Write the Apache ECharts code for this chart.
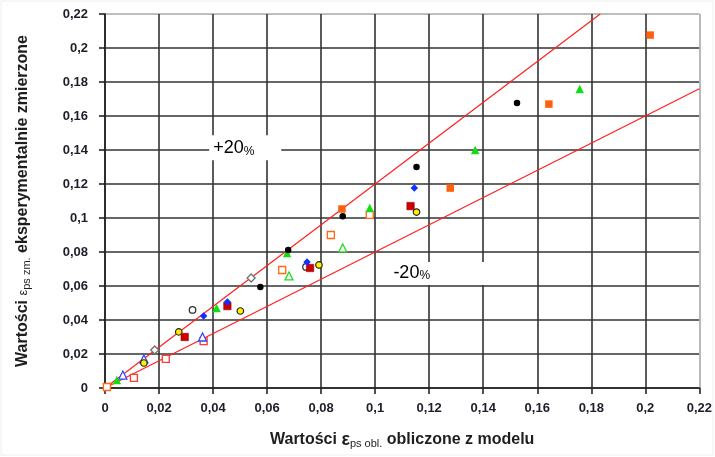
<!DOCTYPE html>
<html>
<head>
<meta charset="utf-8">
<script src="https://cdn.jsdelivr.net/npm/echarts@6/dist/echarts.min.js"></script>
<style>
html,body{margin:0;padding:0;background:#fff;}
#c{width:715px;height:457px;}
</style>
</head>
<body>
<div id="c"></div>
<script>
// ---- data ----
var tickLabels = ['0','0,02','0,04','0,06','0,08','0,1','0,12','0,14','0,16','0,18','0,2','0,22'];
var plus20Line  = [[0, 0], [0.1833, 0.22]];
var minus20Line = [[0, 0], [0.22, 0.176]];

var blackFilled  = [[0.1525,0.1676],[0.1153,0.130],[0.088,0.101],[0.0678,0.0812],[0.0575,0.0594]];
var orangeFilled = [[0.2018,0.2076],[0.1643,0.167],[0.1278,0.1176],[0.0877,0.1053]];
var greenFilled  = [[0.1757,0.1759],[0.137,0.140],[0.098,0.1059],[0.0674,0.0794],[0.0413,0.047],[0.0044,0.0047]];
var blueFilled   = [[0.1145,0.1176],[0.0748,0.0741],[0.0453,0.0506],[0.0365,0.0424]];
var redFilled    = [[0.1131,0.107],[0.0759,0.0706],[0.0453,0.0482],[0.0295,0.030]];
var yellowPts    = [[0.1153,0.1035],[0.0792,0.0724],[0.0501,0.0453],[0.0273,0.033],[0.0144,0.0147]];
var openDiamond  = [[0.0541,0.0647],[0.0184,0.0224]];
var openCircle   = [[0.0324,0.0459],[0.0744,0.0712]];
var orangeOpen   = [[0.098,0.1018],[0.0836,0.090],[0.0656,0.0694],[0.0007,0.0006]];
var greenOpen    = [[0.088,0.0824],[0.0681,0.0659]];
var redOpen      = [[0.0365,0.0276],[0.0225,0.0171],[0.0107,0.0059]];
var blueOpen     = [[0.0361,0.030],[0.0144,0.0171],[0.0066,0.0076]];

var plusLabelPos  = [0.0519, 0.141];
var minusLabelPos = [0.1234, 0.067];

// ---- chart ----
var chart = echarts.init(document.getElementById('c'));
var FONT = "'Liberation Sans', Arial, sans-serif";
var gridColors = tickLabels.map(function(_, i){ return i === tickLabels.length - 1 ? '#a8a8a8' : '#333333'; });

function fmt(v){ var i = Math.round(v / 0.02); return tickLabels[i] !== undefined ? tickLabels[i] : ''; }

function axisCommon(){
  return {
    type: 'value', min: 0, max: 0.22, interval: 0.02,
    axisLine: { show: true, onZero: false, lineStyle: { color: '#222', width: 1.6 } },
    axisTick: { show: true, inside: false, length: 6, lineStyle: { color: '#222', width: 1.6 } },
    splitLine: { show: true, lineStyle: { color: gridColors, width: 1.6 } },
    axisLabel: { formatter: fmt, fontFamily: FONT, fontWeight: 'bold', fontSize: 13, color: '#1e1e2a' },
    nameLocation: 'middle',
    nameTextStyle: { fontFamily: FONT, fontWeight: 'bold', fontSize: 16, color: '#1e1e1e',
      rich: {
        sub: { fontFamily: FONT, fontSize: 11, fontWeight: 'normal', color: '#1e1e1e', verticalAlign: 'bottom', lineHeight: 18 },
        eps: { fontFamily: FONT, fontSize: 18, fontWeight: 'bold', color: '#1e1e1e', lineHeight: 18 },
        seps: { fontFamily: FONT, fontSize: 13, fontWeight: 'normal', color: '#1e1e1e', lineHeight: 18 },
        b: { fontFamily: FONT, fontSize: 16, fontWeight: 'bold', color: '#1e1e1e', lineHeight: 18 }
      }
    }
  };
}

var xAxis = axisCommon();
xAxis.name = '{b|Wartości }{eps|ε}{sub|ps obl.}{b| obliczone z modelu}';
xAxis.nameGap = 43;
xAxis.axisLabel.margin = 14;

var yAxis = axisCommon();
yAxis.name = '{b|Wartości }{seps|ε}{sub|ps zm.}{b| eksperymentalnie zmierzone}';
yAxis.nameGap = 73;
yAxis.axisLabel.margin = 17;

function sc(name, data, symbol, size, fill, border, bw){
  return { name: name, type: 'scatter', data: data, symbol: symbol, symbolSize: size, z: 5,
    itemStyle: { color: fill, borderColor: border, borderWidth: bw || 0, opacity: 1 } };
}

var option = {
  backgroundColor: '#fff',
  animation: false,
  grid: { left: 105, right: 13, top: 14, bottom: 69, containLabel: false },
  xAxis: xAxis,
  yAxis: yAxis,
  series: [
    { type: 'line', data: plus20Line, symbol: 'none', z: 3, lineStyle: { color: '#ff2020', width: 1.2 } },
    { type: 'line', data: minus20Line, symbol: 'none', z: 3, lineStyle: { color: '#ff2020', width: 1.2 } },
    sc('openRed', redOpen, 'rect', 7, '#fff', '#ff3a2a', 1.3),
    sc('openBlue', blueOpen, 'triangle', 8, '#fff', '#3344ff', 1.3),
    sc('openOrange', orangeOpen, 'rect', 7, '#fff', '#ff6a10', 1.3),
    sc('openGreen', greenOpen, 'triangle', 8, '#fff', '#22dd22', 1.3),
    sc('openDiamond', openDiamond, 'diamond', 8, '#fff', '#707070', 1.3),
    sc('openCircle', openCircle, 'circle', 6.5, '#fff', '#333', 1.3),
    sc('yellow', yellowPts, 'circle', 6.5, '#ffee00', '#222', 1.2),
    sc('redFilled', redFilled, 'rect', 7.5, '#cc0000', '#880000', 0.5),
    sc('blueFilled', blueFilled, 'diamond', 7.5, '#1030ff', '#1030ff', 0),
    sc('greenFilled', greenFilled, 'triangle', 8.5, '#11dd11', '#11dd11', 0),
    sc('orangeFilled', orangeFilled, 'rect', 7.5, '#ff6010', '#ff6010', 0),
    sc('blackFilled', blackFilled, 'circle', 6.5, '#000', '#000', 0)
  ]
};
chart.setOption(option);

function placeLabels(){
  var p1 = chart.convertToPixel({ gridIndex: 0 }, plusLabelPos);
  var p2 = chart.convertToPixel({ gridIndex: 0 }, minusLabelPos);
  var rich = {
    n: { fontFamily: FONT, fontSize: 18, color: '#333', lineHeight: 20, verticalAlign: 'bottom' },
    p: { fontFamily: FONT, fontSize: 12, color: '#445', lineHeight: 16, verticalAlign: 'bottom' }
  };
  chart.setOption({
    graphic: [
      { type: 'rect', shape: { x: 1, y: 1, width: 712, height: 454 }, style: { fill: null, stroke: '#eeeeee', lineWidth: 1 }, z: 0, silent: true },
      { type: 'rect', shape: { x: p1[0] - 36, y: p1[1] - 13, width: 72, height: 25 }, style: { fill: '#fff' }, z: 4 },
      { type: 'text', x: p1[0] - 32, y: p1[1] - 11, z: 4,
        style: { text: '{n|+20}{p|%}', rich: rich } },
      { type: 'rect', shape: { x: p2[0] - 48, y: p2[1] - 12, width: 96, height: 23 }, style: { fill: '#fff' }, z: 4 },
      { type: 'text', x: p2[0] - 45, y: p2[1] - 12, z: 4,
        style: { text: '{n|-20}{p|%}', rich: rich } }
    ]
  });
}
placeLabels();
</script>
</body>
</html>
